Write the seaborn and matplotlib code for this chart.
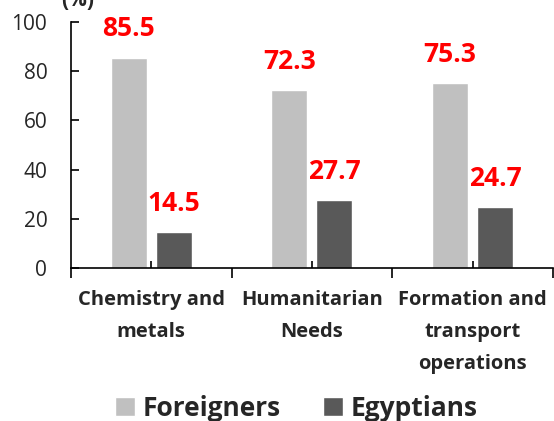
import numpy as np
import pandas as pd
import seaborn as sns
from matplotlib import pyplot as plt
from matplotlib.ticker import FixedLocator


categories = ["Chemistry and\nmetals", "Humanitarian\nNeeds", "Formation and\ntransport\noperations"]
foreigners = [85.5, 72.3, 75.3]
egyptians = [14.5, 27.7, 24.7]
groups = ["Foreigners", "Egyptians"]
colors = ["#C0C0C0", "#595959"]
yticks = [0, 20, 40, 60, 80, 100]


def make_frame():
    rows = []
    for cat, f, e in zip(categories, foreigners, egyptians):
        rows.append({"cat": cat, "group": groups[0], "value": f})
        rows.append({"cat": cat, "group": groups[1], "value": e})
    return pd.DataFrame(rows)


def make_chart(data):
    sns.set_style("white")
    plt.rcParams["font.family"] = ["Open Sans", "DejaVu Sans"]
    fig = plt.figure(figsize=(5.54, 4.21), dpi=100)
    ax = fig.add_axes([0.128, 0.3634, 0.870, 0.5843])
    sns.barplot(data=data, x="cat", y="value", hue="group",
                palette=colors, width=0.56, gap=0.2, ax=ax, saturation=1)

    # value labels in red above each bar
    for cont in ax.containers:
        ax.bar_label(cont, fmt="%.1f", padding=11, color="#FF0000",
                     fontsize=19, fontweight="bold")

    ax.set_xlim(-0.5, 2.5)
    ax.set_ylim(0, 100)
    ax.set_yticks(yticks)
    ax.set_xlabel("")
    ax.set_ylabel("")
    ax.set_xticks(range(len(categories)))
    ax.set_xticklabels(categories, fontsize=14.5, fontweight="bold", linespacing=1.78)
    ax.xaxis.set_minor_locator(FixedLocator([-0.5, 0.5, 1.5, 2.5]))
    ax.tick_params(axis="x", which="major", direction="in", length=5, width=1.2,
                   color="black", pad=16, bottom=True)
    ax.tick_params(axis="x", which="minor", direction="out", length=7, width=1.2,
                   color="black", bottom=True)
    ax.tick_params(axis="y", direction="in", length=6, width=1.2, color="black",
                   labelsize=15, pad=17, left=True)
    for side in ["top", "right"]:
        ax.spines[side].set_visible(False)
    for side in ["left", "bottom"]:
        ax.spines[side].set_color("black")
        ax.spines[side].set_linewidth(1.2)

    fig.text(0.14, 1.0, "(%)", fontsize=15, fontweight="bold", ha="center", va="center")

    handles, labels = ax.get_legend_handles_labels()
    ax.legend_.remove()
    fig.legend(handles, labels, loc="center", bbox_to_anchor=(0.535, 0.03), ncol=2,
               frameon=False, prop={"size": 19, "weight": "bold"},
               handlelength=0.75, handleheight=0.75, columnspacing=1.6, handletextpad=0.3)

    plt.savefig("out.png", dpi=100)
    plt.close()


def main():
    data = make_frame()
    make_chart(data)


main()
